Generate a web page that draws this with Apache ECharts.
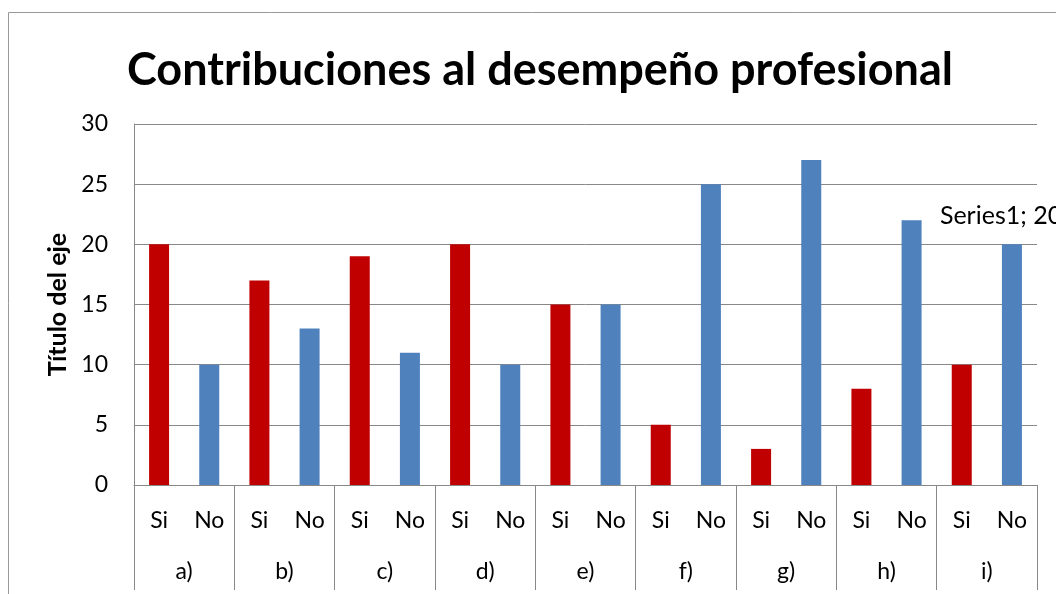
<!DOCTYPE html>
<html>
<head>
<meta charset="utf-8">
<script src="https://cdn.jsdelivr.net/npm/echarts@6/dist/echarts.min.js"></script>
<style>
  html, body { margin: 0; padding: 0; background: #fff; }
  #chart { width: 1056px; height: 594px; }
</style>
</head>
<body>
<div id="chart"></div>
<script>
// answers per question: Si / No alternating
var answerLabels = ['Si', 'No', 'Si', 'No', 'Si', 'No', 'Si', 'No', 'Si', 'No', 'Si', 'No', 'Si', 'No', 'Si', 'No', 'Si', 'No'];
var questionLabels = ['a)', 'b)', 'c)', 'd)', 'e)', 'f)', 'g)', 'h)', 'i)'];
var series1Values = [20, 10, 17, 13, 19, 11, 20, 10, 15, 15, 5, 25, 3, 27, 8, 22, 10, 20];
var yTicks = { min: 0, max: 30, interval: 5 };

var siColor = '#C00000';
var noColor = '#4F81BD';
var gridColor = '#888888';
var font = 'Lato, "Open Sans", sans-serif';

var chart = echarts.init(document.getElementById('chart'));

var option = {
    backgroundColor: '#fff',
    animation: false,
    title: {
        text: 'Contribuciones al desempeño profesional',
        left: 122,
        top: 43,
        textStyle: {
            color: '#000',
            fontFamily: font,
            fontWeight: 'bold',
            fontSize: 45
        }
    },
    graphic: [{
        type: 'rect',
        shape: { x: 8.5, y: 12.5, width: 1100, height: 700 },
        style: { fill: 'none', stroke: '#999', lineWidth: 1 },
        silent: true
    }],
    grid: {
        left: 134,
        right: 19,
        top: 124,
        bottom: 109
    },
    xAxis: [
        {
            type: 'category',
            data: answerLabels,
            axisLine: { show: true, lineStyle: { color: gridColor } },
            axisTick: { show: false },
            axisLabel: {
                interval: 0,
                margin: 24,
                color: '#000',
                fontFamily: font,
                fontSize: 23
            }
        },
        {
            type: 'category',
            position: 'bottom',
            data: questionLabels,
            axisLine: { show: false },
            axisTick: { show: true, interval: 0, length: 105, lineStyle: { color: gridColor } },
            axisLabel: {
                interval: 0,
                margin: 75,
                color: '#000',
                fontFamily: font,
                fontSize: 23
            }
        }
    ],
    yAxis: {
        type: 'value',
        min: yTicks.min,
        max: yTicks.max,
        interval: yTicks.interval,
        name: 'Título del eje',
        nameLocation: 'middle',
        nameGap: 59,
        nameRotate: 90,
        nameTextStyle: {
            color: '#000',
            fontFamily: font,
            fontWeight: 'bold',
            fontSize: 25
        },
        axisLine: { show: true, lineStyle: { color: gridColor } },
        axisTick: { show: false },
        axisLabel: {
            margin: 26,
            color: '#000',
            fontFamily: font,
            fontSize: 23
        },
        splitLine: { lineStyle: { color: gridColor } }
    },
    series: [
        {
            name: 'Series1',
            type: 'bar',
            xAxisIndex: 0,
            barWidth: 20,
            data: series1Values,
            itemStyle: {
                color: function (p) {
                    return answerLabels[p.dataIndex] === 'Si' ? siColor : noColor;
                }
            },
            label: {
                show: true,
                position: [-62, -28],
                align: 'left',
                verticalAlign: 'middle',
                color: '#000',
                fontFamily: font,
                fontSize: 25,
                formatter: function (p) {
                    return p.dataIndex === series1Values.length - 1 ? p.seriesName + '; ' + p.value : '';
                }
            }
        }
    ]
};

chart.setOption(option, true);
</script>
</body>
</html>
